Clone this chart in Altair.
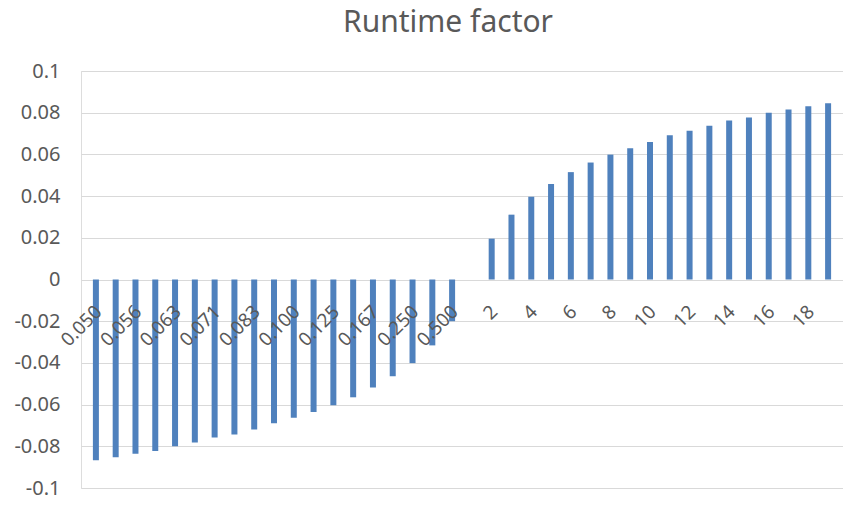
import json
import altair as alt
import pandas as pd

categories = [
    "0.050", "0.053", "0.056", "0.059", "0.063", "0.067", "0.071", "0.077",
    "0.083", "0.091", "0.100", "0.111", "0.125", "0.143", "0.167", "0.200",
    "0.250", "0.333", "0.500", "1",
    "2", "3", "4", "5", "6", "7", "8", "9", "10", "11", "12", "13", "14",
    "15", "16", "17", "18", "19", "20",
]
values = [
    -0.0867, -0.0852, -0.0836, -0.0822, -0.0800, -0.0782, -0.0758, -0.0743,
    -0.0720, -0.0689, -0.0663, -0.0635, -0.0603, -0.0565, -0.0518, -0.0464,
    -0.0401, -0.0316, -0.0200, 0.0,
    0.0196, 0.0311, 0.0397, 0.0458, 0.0515, 0.0561, 0.0599, 0.0629, 0.0660,
    0.0692, 0.0714, 0.0738, 0.0762, 0.0777, 0.0800, 0.0815, 0.0831, 0.0845,
    0.0860,
]
y_ticks = [-0.1, -0.08, -0.06, -0.04, -0.02, 0, 0.02, 0.04, 0.06, 0.08, 0.1]

positions = list(range(len(categories)))
label_positions = positions[:38:2]
df = pd.DataFrame({"pos": positions, "cat": categories, "val": values})

FONT = "Noto Sans"
GRAY = "#595959"
label_expr = json.dumps(categories) + "[datum.value]"

chart = alt.Chart(df).mark_bar(color="#4F81BD", size=6, clip=True).encode(
    x=alt.X(
        "pos:Q",
        scale=alt.Scale(domain=[-0.5, 37.5], nice=False, zero=False),
        axis=alt.Axis(
            values=label_positions,
            labelExpr=label_expr,
            labelAngle=315,
            offset=-208,
            domain=False,
            ticks=False,
            tickSize=0,
            labelPadding=22,
            labelOffset=-4,
            labelFontSize=19,
            labelFont=FONT,
            labelColor=GRAY,
            labelOverlap=False,
            labelFlush=False,
            grid=False,
            title=None,
            zindex=1,
        ),
    ),
    y=alt.Y(
        "val:Q",
        scale=alt.Scale(domain=[-0.1, 0.1], nice=False),
        axis=alt.Axis(
            values=y_ticks,
            labelExpr="datum.value < 0 ? '-' + format(-datum.value, '~g') : format(datum.value, '~g')",
            grid=True,
            gridColor="#d9d9d9",
            gridWidth=1,
            domain=False,
            ticks=False,
            tickSize=0,
            labelPadding=21,
            labelFontSize=20,
            labelFont=FONT,
            labelColor=GRAY,
            title=None,
        ),
    ),
).properties(
    width=835,
    height=490,
    autosize=alt.AutoSizeParams(type="fit", contains="padding"),
    title=alt.Title(
        "Runtime factor",
        fontSize=30,
        font=FONT,
        color=GRAY,
        fontWeight="normal",
        offset=23,
        dx=-14,
    ),
).configure_view(stroke=None).configure(
    padding={"left": 5, "top": 0, "right": 0, "bottom": 0}
)

chart.save("out.html", embed_options={"renderer": "svg", "actions": False})
